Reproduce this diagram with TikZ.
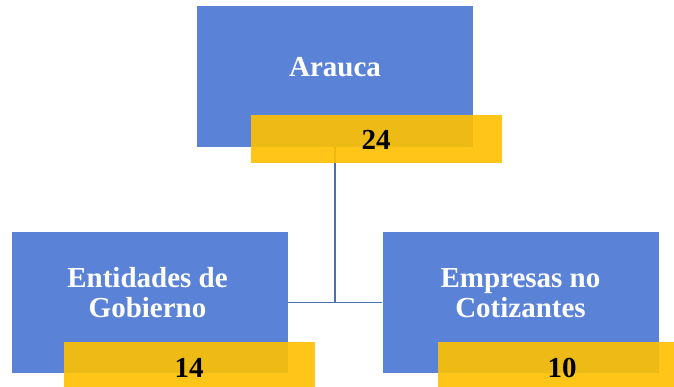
\documentclass[tikz,border=0pt]{standalone}
\usepackage{fontspec}
\setmainfont{Liberation Serif}
\definecolor{boxblue}{HTML}{5A83D8}
\definecolor{numyellow}{HTML}{FFC000}
\definecolor{linkblue}{HTML}{4A6FB5}
\begin{document}
\begin{tikzpicture}[x=1pt,y=-1pt,
  bluebox/.style={fill=boxblue,draw=none,minimum width=276pt,minimum height=141pt,inner sep=0pt},
  yellowbox/.style={fill=numyellow,fill opacity=0.9,draw=none,minimum width=251pt,minimum height=48pt,inner sep=0pt},
  labeltext/.style={text=white,font=\bfseries\fontsize{29}{30}\selectfont,align=center,inner sep=0pt},
  numtext/.style={text=black,font=\bfseries\fontsize{29}{30}\selectfont,inner sep=0pt,anchor=base},
  link/.style={draw=linkblue,line width=1.5pt}]
\useasboundingbox (0,0) rectangle (674,387);
\node[bluebox] (arauca) at (335,76.5) {};
\node[bluebox] (gob) at (149.5,302.5) {};
\node[bluebox] (emp) at (520.5,302.5) {};
\node[labeltext,anchor=base] (tarauca) at (335,77) {Arauca};
\node[labeltext] (tgob) at (147.5,293) {Entidades de\\Gobierno};
\node[labeltext] (temp) at (520.5,293) {Empresas no\\Cotizantes};
\coordinate (junc) at (arauca.south |- gob.east);
\draw[link] (arauca.south) -- (junc);
\draw[link] (gob.east) -- (emp.west);
\node[yellowbox] (y24) at (376,139) {};
\node[yellowbox] (y14) at (189,366) {};
\node[yellowbox] (y10) at (563,366) {};
\node[numtext] (n24) at (376,150) {24};
\node[numtext] (n14) at (189,377) {14};
\node[numtext] (n10) at (562,377) {10};
\end{tikzpicture}
\end{document}
